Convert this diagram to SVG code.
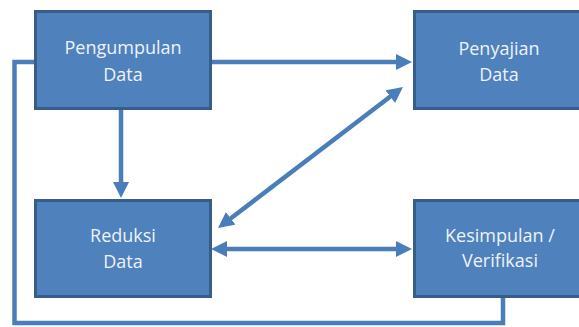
<svg xmlns="http://www.w3.org/2000/svg" width="579" height="327" viewBox="0 0 579 327">
  <style>
    .box { fill: #4f81bd; stroke: #385d8a; stroke-width: 3; }
    .lbl { font-family: "Open Sans", "Liberation Sans", sans-serif; font-size: 18px; fill: #eef2f8; text-anchor: middle; }
    .con { fill: none; stroke: #4a7ebb; stroke-width: 4.5; stroke-linejoin: miter; }
  </style>
  <defs>
    <marker id="ah" markerUnits="userSpaceOnUse" viewBox="0 0 16 16" markerWidth="16" markerHeight="16" refX="8" refY="8" orient="auto-start-reverse">
      <path d="M0,0 L16,8 L0,16 z" fill="#4a7ebb"/>
    </marker>
  </defs>
  <rect width="579" height="327" fill="#ffffff"/>

  <g id="connectors">
    <path class="con" d="M36,62 H14.5 V323 H503 V298"/>
    <path class="con" d="M211,62 H404" marker-end="url(#ah)"/>
    <path class="con" d="M121,109 V190" marker-end="url(#ah)"/>
    <path class="con" d="M224.4,223.2 L396.6,91.8" marker-start="url(#ah)" marker-end="url(#ah)"/>
    <path class="con" d="M219,249 H404" marker-start="url(#ah)" marker-end="url(#ah)"/>
  </g>

  <g id="pengumpulan">
    <rect class="box" x="35.5" y="11.5" width="175" height="97"/>
    <text class="lbl" x="123" y="54">Pengumpulan</text>
    <text class="lbl" x="123" y="81">Data</text>
  </g>
  <g id="penyajian">
    <rect class="box" x="414.5" y="11.5" width="175" height="97"/>
    <text class="lbl" x="499" y="55">Penyajian</text>
    <text class="lbl" x="499" y="81">Data</text>
  </g>
  <g id="reduksi">
    <rect class="box" x="35.5" y="200.5" width="175" height="96"/>
    <text class="lbl" x="123" y="242">Reduksi</text>
    <text class="lbl" x="123" y="268">Data</text>
  </g>
  <g id="kesimpulan">
    <rect class="box" x="414.5" y="200.5" width="175" height="96"/>
    <text class="lbl" x="500" y="242">Kesimpulan /</text>
    <text class="lbl" x="500" y="267">Verifikasi</text>
  </g>
</svg>
